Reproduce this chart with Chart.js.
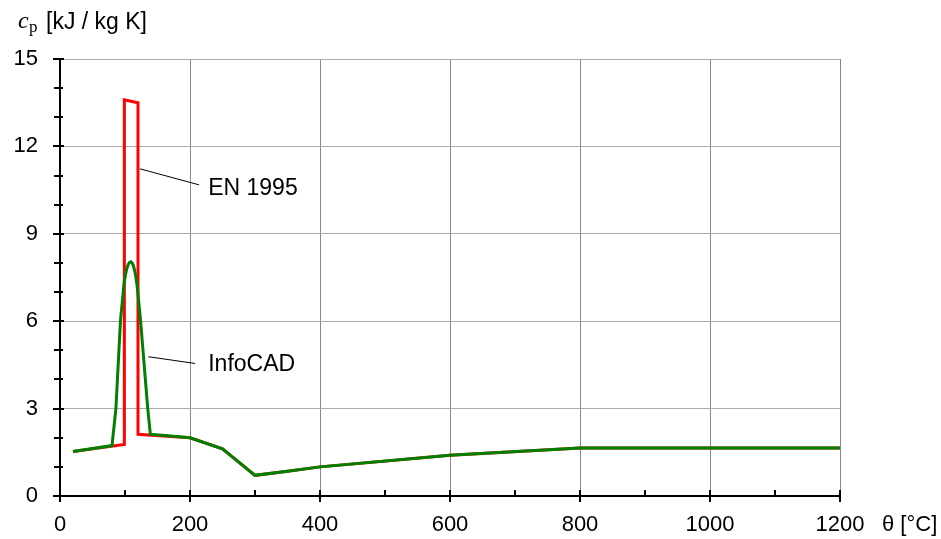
<!DOCTYPE html>
<html>
<head>
<meta charset="utf-8">
<script src="https://cdn.jsdelivr.net/npm/chart.js@4.4.0/dist/chart.umd.min.js"></script>
<style>
  html, body { margin: 0; padding: 0; background: #fff; }
  #wrap { width: 941px; height: 539px; }
</style>
</head>
<body>
<div id="wrap"><canvas id="chart"></canvas></div>
<script>
// temperature [°C] and specific heat [kJ / kg K]
const enTemp = [20, 99, 99, 120, 120, 200, 250, 300, 350, 400, 600, 800, 1200];
const enCp   = [1.53, 1.77, 13.6, 13.5, 2.12, 2.0, 1.62, 0.71, 0.85, 1.0, 1.4, 1.65, 1.65];

const infoTemp = [20, 80, 86, 93, 98.5, 101, 103, 105, 107, 109, 111, 113, 115, 117, 119, 124, 135, 139, 200, 250, 300, 350, 400, 600, 800, 1200];
const infoCp   = [1.53, 1.73, 3.0, 6.0, 7.3, 7.62, 7.82, 7.95, 8.02, 8.04, 8.0, 7.9, 7.72, 7.48, 7.15, 6.0, 3.0, 2.12, 2.0, 1.62, 0.71, 0.85, 1.0, 1.4, 1.65, 1.65];

const xTicks = [0, 200, 400, 600, 800, 1000, 1200];
const yTicks = [0, 3, 6, 9, 12, 15];

// label text with leader line: [text, lineStartX, lineStartY, lineEndX, lineEndY, textX, textY]
const labels = [
  ["EN 1995", 123, 11.23, 214, 10.68, 228, 10.55],
  ["InfoCAD", 136, 4.78, 208, 4.55, 228, 4.5]
];

const toXY = (xs, ys) => xs.map((x, i) => ({ x: x, y: ys[i] }));

const FONT = '"Liberation Sans", Arial, sans-serif';

const extras = {
  id: 'extras',
  afterDraw(chart) {
    const ctx = chart.ctx;
    const xs = chart.scales.x, ys = chart.scales.y;
    const a = chart.chartArea;
    ctx.save();

    // axis lines
    ctx.strokeStyle = '#000';
    ctx.lineWidth = 2;
    ctx.beginPath();
    ctx.moveTo(a.left, a.top);
    ctx.lineTo(a.left, a.bottom);
    ctx.lineTo(a.right, a.bottom);
    ctx.stroke();

    // y ticks (major and minor)
    for (let v = 0; v <= 15; v++) {
      const py = Math.round(ys.getPixelForValue(v));
      const major = v % 3 === 0;
      ctx.beginPath();
      ctx.moveTo(a.left - (major ? 7 : 6), py);
      ctx.lineTo(a.left + (major ? 4 : 3), py);
      ctx.stroke();
    }
    // x ticks
    for (let v = 0; v <= 1200; v += 100) {
      const px = Math.round(xs.getPixelForValue(v));
      const major = v % 200 === 0;
      ctx.beginPath();
      ctx.moveTo(px, a.bottom - 6);
      ctx.lineTo(px, a.bottom + (major ? 6 : 0));
      ctx.stroke();
    }

    // leader lines and texts
    ctx.lineWidth = 1;
    ctx.fillStyle = '#000';
    ctx.font = '23px ' + FONT;
    ctx.textBaseline = 'middle';
    ctx.textAlign = 'left';
    labels.forEach(l => {
      ctx.beginPath();
      ctx.moveTo(xs.getPixelForValue(l[1]), ys.getPixelForValue(l[2]));
      ctx.lineTo(xs.getPixelForValue(l[3]), ys.getPixelForValue(l[4]));
      ctx.stroke();
      ctx.fillText(l[0], xs.getPixelForValue(l[5]), ys.getPixelForValue(l[6]));
    });

    // y axis title
    ctx.textBaseline = 'alphabetic';
    ctx.font = 'italic 24px "Liberation Serif", "Times New Roman", serif';
    ctx.fillText('c', 18, 28);
    ctx.font = '17px "Liberation Serif", "Times New Roman", serif';
    ctx.fillText('p', 29, 32);
    ctx.font = '23px ' + FONT;
    ctx.fillText('[kJ / kg K]', 46, 29);

    // x axis title
    ctx.font = '22px ' + FONT;
    ctx.fillText('θ [°C]', 882, 531);
    ctx.restore();
  }
};

new Chart(document.getElementById('chart'), {
  type: 'line',
  data: {
    datasets: [
      {
        label: 'InfoCAD',
        data: toXY(infoTemp, infoCp),
        borderColor: '#008000',
        borderWidth: 3,
        pointRadius: 0,
        fill: false,
        order: 0
      },
      {
        label: 'EN 1995',
        data: toXY(enTemp, enCp),
        borderColor: '#ff0000',
        borderWidth: 3,
        pointRadius: 0,
        fill: false,
        order: 1
      }
    ]
  },
  options: {
    responsive: true,
    maintainAspectRatio: false,
    animation: false,
    layout: { padding: { left: 0, top: 59, right: 101, bottom: 0 } },
    plugins: { legend: { display: false }, tooltip: { enabled: false } },
    scales: {
      x: {
        type: 'linear',
        min: 0, max: 1200,
        afterBuildTicks: s => { s.ticks = xTicks.map(v => ({ value: v })); },
        afterFit: s => { s.height = 43; },
        grid: { color: '#888', lineWidth: 1, drawTicks: false },
        border: { display: false },
        ticks: { color: '#000', font: { size: 22, family: FONT }, padding: 16, maxRotation: 0,
                 callback: v => String(v) }
      },
      y: {
        type: 'linear',
        min: 0, max: 15,
        afterBuildTicks: s => { s.ticks = yTicks.map(v => ({ value: v })); },
        afterFit: s => { s.width = 60; },
        grid: { color: '#aaa', lineWidth: 1, drawTicks: false },
        border: { display: false },
        ticks: { color: '#000', font: { size: 22, family: FONT }, padding: 22,
                 callback: v => String(v) }
      }
    }
  },
  plugins: [extras]
});
</script>
</body>
</html>
